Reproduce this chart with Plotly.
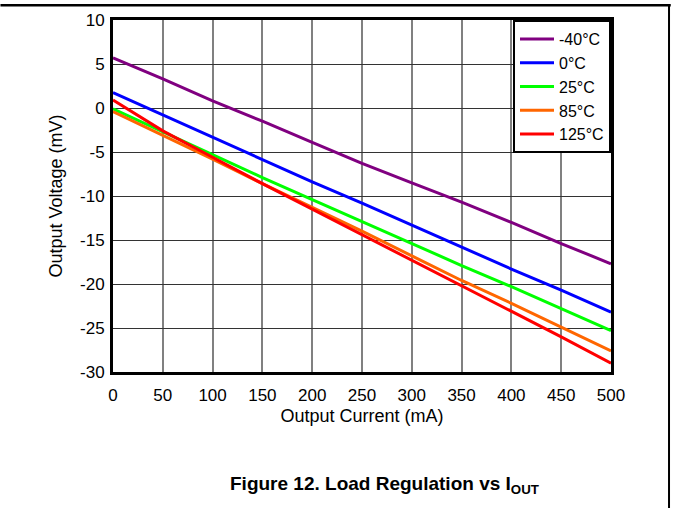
import plotly.graph_objects as go

current_ma = [0, 50, 100, 150, 200, 250, 300, 350, 400, 450, 500]
v_m40 = [5.7, 3.3, 0.8, -1.5, -3.9, -6.3, -8.5, -10.7, -13.0, -15.4, -17.7]
v_0 = [1.75, -0.8, -3.3, -5.9, -8.4, -10.8, -13.3, -15.8, -18.3, -20.7, -23.2]
v_25 = [-0.1, -2.7, -5.3, -7.9, -10.4, -12.9, -15.4, -17.9, -20.3, -22.8, -25.3]
v_85 = [-0.4, -3.1, -5.8, -8.6, -11.3, -14.0, -16.8, -19.6, -22.2, -24.9, -27.6]
v_125 = [0.9, -2.6, -5.6, -8.6, -11.5, -14.4, -17.3, -20.2, -23.1, -26.0, -29.0]

series_names = ["-40°C", "0°C", "25°C", "85°C", "125°C"]
series_values = [v_m40, v_0, v_25, v_85, v_125]
series_colors = ["#800080", "#0000FF", "#00FF00", "#FF6600", "#FF0000"]

x_ticks = [0, 50, 100, 150, 200, 250, 300, 350, 400, 450, 500]
y_ticks = [10, 5, 0, -5, -10, -15, -20, -25, -30]

FONT = "Liberation Sans, Arial, sans-serif"

fig = go.Figure()
for name, vals, col in zip(series_names, series_values, series_colors):
    fig.add_trace(go.Scatter(x=current_ma, y=vals, mode="lines", name=name,
                             line=dict(color=col, width=3)))

fig.update_layout(
    width=673, height=508,
    margin=dict(l=113, r=62, t=20, b=136, autoexpand=False),
    paper_bgcolor="white", plot_bgcolor="white",
    font=dict(family=FONT, size=17, color="black"),
    showlegend=True,
    legend=dict(x=1, y=1, xanchor="right", yanchor="top",
                bgcolor="white", bordercolor="black", borderwidth=2,
                font=dict(size=16, family=FONT), itemwidth=34),
)
fig.update_xaxes(range=[0, 500], tickvals=x_ticks, ticktext=[str(t) for t in x_ticks],
                 showgrid=True, gridcolor="#808080", gridwidth=1.5,
                 showline=True, linecolor="black", linewidth=3, mirror=True,
                 ticks="", zeroline=False, ticklabelstandoff=6,
                 title=dict(text="Output Current (mA)", standoff=5, font=dict(size=18)),
                 tickfont=dict(size=17))
fig.update_yaxes(range=[-30, 10], tickvals=y_ticks, ticktext=[str(t) for t in y_ticks],
                 showgrid=True, gridcolor="#333333", gridwidth=1,
                 showline=True, linecolor="black", linewidth=3, mirror=True,
                 ticks="", zeroline=False, ticklabelstandoff=2,
                 title=dict(text="Output Voltage (mV)", standoff=13, font=dict(size=18)),
                 tickfont=dict(size=17))

# page frame decorations (top rule and right rule)
fig.add_shape(type="line", xref="paper", yref="paper", x0=-0.226, x1=1.12, y0=1.042, y1=1.042,
              line=dict(color="black", width=2.5), layer="above")
fig.add_shape(type="line", xref="paper", yref="paper", x0=1.1165, x1=1.1165, y0=-0.4, y1=1.042,
              line=dict(color="black", width=2), layer="above")

fig.add_annotation(text="<b>Figure 12. Load Regulation vs I<sub>OUT</sub></b>",
                   xref="paper", yref="paper", x=0.545, y=-0.321, showarrow=False,
                   xanchor="center", yanchor="middle", font=dict(size=19, family=FONT))

fig.write_html("out.html", config={"displayModeBar": False},
               post_script="document.body.style.margin='0';")
